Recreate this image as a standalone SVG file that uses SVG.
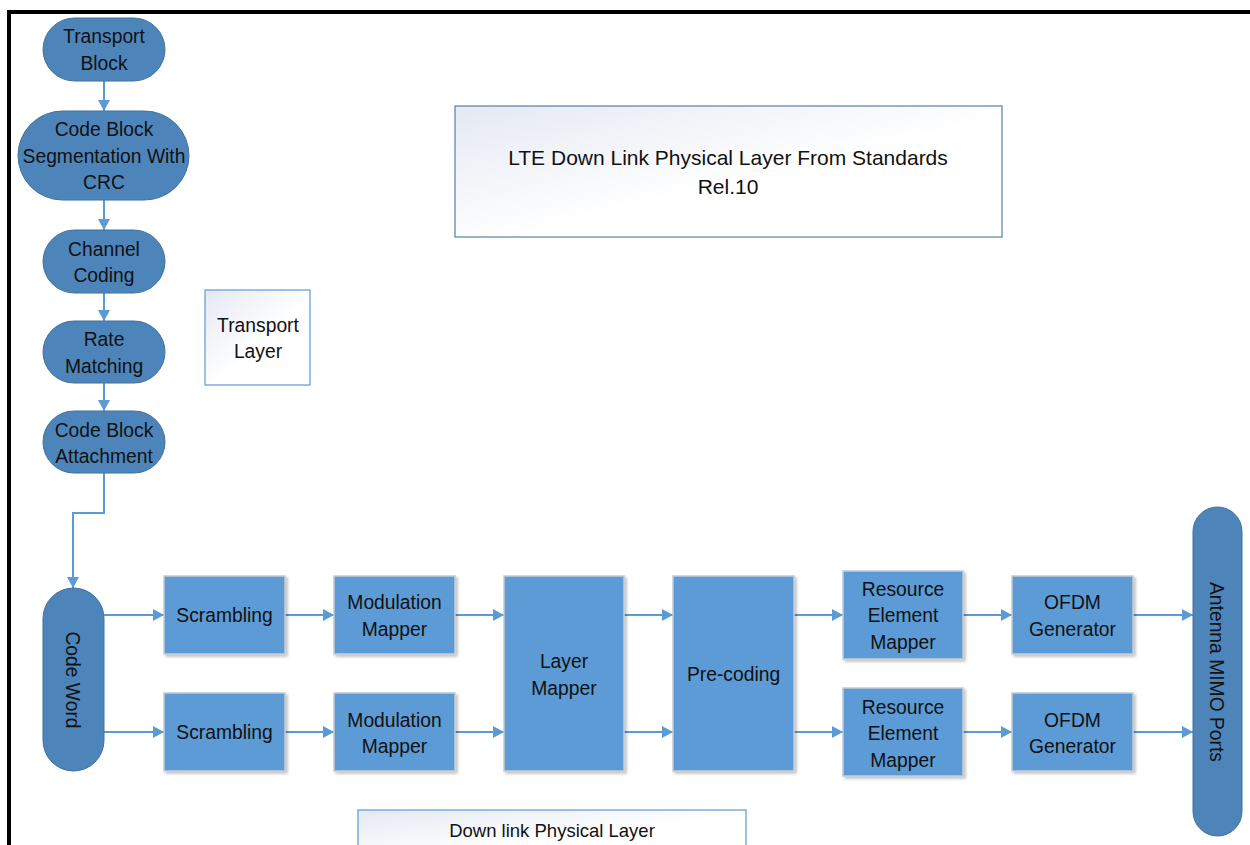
<svg xmlns="http://www.w3.org/2000/svg" width="1250" height="845" viewBox="0 0 1250 845">
  <defs>
    <marker id="arr" viewBox="0 0 10 10" refX="10" refY="5" markerWidth="11" markerHeight="12" markerUnits="userSpaceOnUse" orient="auto" preserveAspectRatio="none">
      <path d="M0,0 L10,5 L0,10 Z" fill="#5B9BD5"/>
    </marker>
    <linearGradient id="paper" x1="0" y1="0" x2="1" y2="1">
      <stop offset="0" stop-color="#E4E9F2"/>
      <stop offset="0.55" stop-color="#FFFFFF"/>
      <stop offset="1" stop-color="#FFFFFF"/>
    </linearGradient>
    <filter id="shadow" x="-10%" y="-10%" width="125%" height="125%">
      <feGaussianBlur in="SourceAlpha" stdDeviation="1.5"/>
      <feOffset dx="1.5" dy="2" result="b"/>
      <feComponentTransfer><feFuncA type="linear" slope="0.25"/></feComponentTransfer>
      <feMerge><feMergeNode/><feMergeNode in="SourceGraphic"/></feMerge>
    </filter>
  </defs>
  <style>
    .pill { fill: #4D85BA; stroke: #41719C; stroke-width: 1; }
    .blk { fill: #5B9BD5; stroke: #C3CCD6; stroke-width: 1.5; filter: url(#shadow); }
    .note { fill: url(#paper); stroke: #5B9BD5; stroke-width: 1.2; }
    .title { fill: url(#paper); stroke: #587FA8; stroke-width: 1.2; }
    .t { font-family: "Liberation Sans", Arial, sans-serif; font-size: 19.3px; fill: #111; text-anchor: middle; }
    .big { font-size: 21px; }
    .small { font-size: 18.5px; }
    .wire { fill: none; stroke: #5B9BD5; stroke-width: 2; marker-end: url(#arr); }
  </style>

  <rect width="1250" height="845" fill="#fff"/>
  <!-- outer frame -->
  <path d="M9,845 V12 H1250" fill="none" stroke="#000" stroke-width="4"/>

  <!-- connectors -->
  <g id="connectors">
    <path class="wire" d="M104,81 V111"/>
    <path class="wire" d="M104,200 V230"/>
    <path class="wire" d="M104,293 V321"/>
    <path class="wire" d="M104,383 V411"/>
    <path class="wire" d="M104,473 V513 H73 V588"/>
    <path class="wire" d="M104,615 H164"/>
    <path class="wire" d="M104,732 H164"/>
    <path class="wire" d="M285,615 H334"/>
    <path class="wire" d="M285,732 H334"/>
    <path class="wire" d="M455,615 H504"/>
    <path class="wire" d="M455,732 H504"/>
    <path class="wire" d="M624,615 H673"/>
    <path class="wire" d="M624,732 H673"/>
    <path class="wire" d="M794,615 H843"/>
    <path class="wire" d="M794,732 H843"/>
    <path class="wire" d="M963,615 H1012"/>
    <path class="wire" d="M963,732 H1012"/>
    <path class="wire" d="M1133,615 H1193"/>
    <path class="wire" d="M1133,732 H1193"/>
  </g>

  <!-- transport chain -->
  <g id="transport-block">
    <rect class="pill" x="43" y="18" width="122" height="63" rx="31.5"/>
    <text class="t" x="104" y="43">Transport</text>
    <text class="t" x="104" y="70">Block</text>
  </g>
  <g id="segmentation">
    <rect class="pill" x="18" y="111" width="171" height="89" rx="44.5"/>
    <text class="t" x="104" y="136">Code Block</text>
    <text class="t" x="104" y="163">Segmentation With</text>
    <text class="t" x="104" y="189">CRC</text>
  </g>
  <g id="channel-coding">
    <rect class="pill" x="43" y="230" width="122" height="63" rx="31.5"/>
    <text class="t" x="104" y="256">Channel</text>
    <text class="t" x="104" y="282">Coding</text>
  </g>
  <g id="rate-matching">
    <rect class="pill" x="43" y="321" width="122" height="62" rx="31"/>
    <text class="t" x="104" y="346">Rate</text>
    <text class="t" x="104" y="373">Matching</text>
  </g>
  <g id="cb-attachment">
    <rect class="pill" x="43" y="411" width="122" height="62" rx="31"/>
    <text class="t" x="104" y="437">Code Block</text>
    <text class="t" x="104" y="463">Attachment</text>
  </g>

  <g id="transport-layer-note">
    <rect class="note" x="205" y="290" width="105" height="95"/>
    <text class="t" x="258" y="332">Transport</text>
    <text class="t" x="258" y="358">Layer</text>
  </g>

  <g id="title">
    <rect class="title" x="455" y="106" width="547" height="131"/>
    <text class="t big" x="728" y="165">LTE Down Link Physical Layer From Standards</text>
    <text class="t big" x="728" y="194">Rel.10</text>
  </g>

  <!-- physical layer chain -->
  <g id="code-word">
    <rect class="pill" x="43" y="588" width="61" height="183" rx="30.5"/>
    <text class="t" transform="translate(73,680) rotate(90)" y="7">Code Word</text>
  </g>
  <g id="scrambling-1">
    <rect class="blk" x="164" y="576" width="121" height="78"/>
    <text class="t" x="224.5" y="622">Scrambling</text>
  </g>
  <g id="scrambling-2">
    <rect class="blk" x="164" y="693" width="121" height="78"/>
    <text class="t" x="224.5" y="739">Scrambling</text>
  </g>
  <g id="mod-mapper-1">
    <rect class="blk" x="334" y="576" width="121" height="78"/>
    <text class="t" x="394.5" y="609">Modulation</text>
    <text class="t" x="394.5" y="636">Mapper</text>
  </g>
  <g id="mod-mapper-2">
    <rect class="blk" x="334" y="693" width="121" height="78"/>
    <text class="t" x="394.5" y="727">Modulation</text>
    <text class="t" x="394.5" y="753">Mapper</text>
  </g>
  <g id="layer-mapper">
    <rect class="blk" x="504" y="576" width="120" height="195"/>
    <text class="t" x="564" y="668">Layer</text>
    <text class="t" x="564" y="695">Mapper</text>
  </g>
  <g id="precoding">
    <rect class="blk" x="673" y="576" width="121" height="195"/>
    <text class="t" x="733.5" y="681">Pre-coding</text>
  </g>
  <g id="re-mapper-1">
    <rect class="blk" x="843" y="571" width="120" height="88"/>
    <text class="t" x="903" y="596">Resource</text>
    <text class="t" x="903" y="622">Element</text>
    <text class="t" x="903" y="649">Mapper</text>
  </g>
  <g id="re-mapper-2">
    <rect class="blk" x="843" y="688" width="120" height="88"/>
    <text class="t" x="903" y="714">Resource</text>
    <text class="t" x="903" y="740">Element</text>
    <text class="t" x="903" y="767">Mapper</text>
  </g>
  <g id="ofdm-1">
    <rect class="blk" x="1012" y="576" width="121" height="78"/>
    <text class="t" x="1072.5" y="609">OFDM</text>
    <text class="t" x="1072.5" y="636">Generator</text>
  </g>
  <g id="ofdm-2">
    <rect class="blk" x="1012" y="693" width="121" height="78"/>
    <text class="t" x="1072.5" y="727">OFDM</text>
    <text class="t" x="1072.5" y="753">Generator</text>
  </g>
  <g id="antenna-ports">
    <rect class="pill" x="1193" y="507" width="49" height="329" rx="24.5"/>
    <text class="t" transform="translate(1217,672) rotate(90)" y="7">Antenna MIMO Ports</text>
  </g>

  <g id="physical-layer-note">
    <rect class="note" x="358" y="810" width="388" height="50"/>
    <text class="t small" x="552" y="837">Down link Physical Layer</text>
  </g>
</svg>
